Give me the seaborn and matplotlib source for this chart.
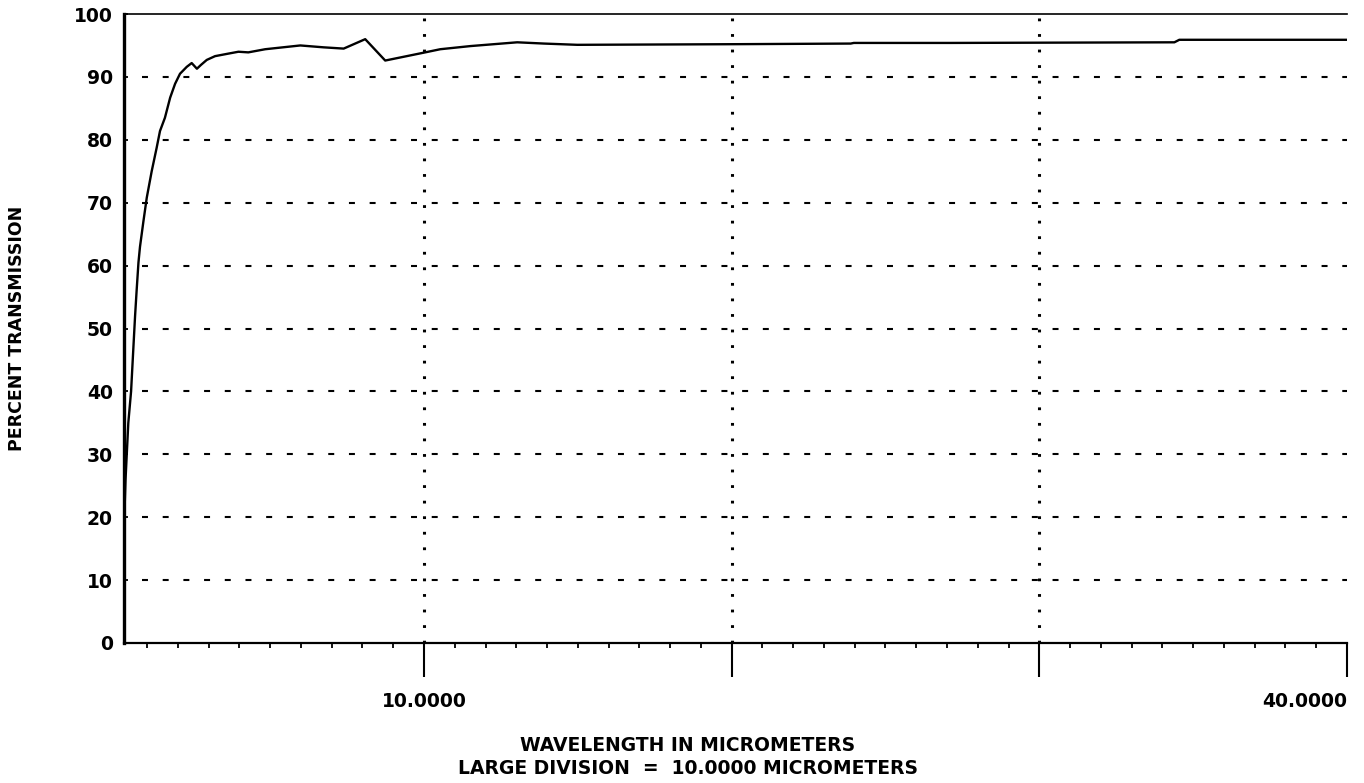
import matplotlib
matplotlib.use("Agg")
import matplotlib.pyplot as plt
from matplotlib.ticker import FixedLocator, MultipleLocator
import seaborn as sns

# values
wavelength = [0.25, 0.27, 0.30, 0.34, 0.39, 0.48, 0.55, 0.61, 0.66, 0.72,
              0.77, 0.88, 0.99, 1.15, 1.31, 1.42, 1.58, 1.75, 1.91, 2.07,
              2.29, 2.45, 2.62, 2.75, 2.94, 3.21, 3.64, 3.97, 4.29, 4.84,
              5.60, 5.98, 6.74, 7.39, 8.09, 8.74, 10.04, 10.53, 11.51, 12.27,
              13.03, 13.90, 14.98, 20.07, 23.87, 23.97, 27.13, 34.39, 34.55, 40.0]
transmission = [27, 21.5, 26, 30, 35, 40, 46.5, 52, 56, 60.5,
                63, 67, 70.8, 75, 78.7, 81.4, 83.5, 86.7, 88.9, 90.5,
                91.6, 92.2, 91.3, 91.9, 92.7, 93.3, 93.7, 94.0, 93.9, 94.4,
                94.8, 95.0, 94.7, 94.5, 96.0, 92.6, 93.9, 94.4, 94.9, 95.2,
                95.5, 95.3, 95.1, 95.2, 95.3, 95.4, 95.4, 95.5, 95.9, 95.9]

major_x = [10, 20, 30, 40]
major_x_labels = ["10.0000", "", "", "40.0000"]
y_ticks = [0, 10, 20, 30, 40, 50, 60, 70, 80, 90, 100]
grid_y = [10, 20, 30, 40, 50, 60, 70, 80, 90]
grid_x = [10, 20, 30]

sns.set_theme(style="white")
plt.rcParams["font.family"] = ["DejaVu Sans"]
plt.rcParams["font.weight"] = "bold"
plt.rcParams["text.color"] = "black"
plt.rcParams["axes.labelcolor"] = "black"
plt.rcParams["xtick.color"] = "black"
plt.rcParams["ytick.color"] = "black"
plt.rcParams["lines.scale_dashes"] = False

fig = plt.figure(figsize=(13.64, 7.83), dpi=100)
ax = fig.add_axes([124 / 1364, 1 - 643 / 783, 1223 / 1364, 629 / 783])

# grid first so the curve sits on top
for yv in grid_y:
    ax.axhline(yv, xmin=0.015, color="black", lw=1.5, linestyle=(0, (4.3, 10.6)), zorder=1)
for xv in grid_x:
    ax.axvline(xv, color="black", lw=2.2, linestyle=(0, (2.0, 9.2)), zorder=1)

sns.lineplot(x=wavelength, y=transmission, color="black", linewidth=1.7, ax=ax, zorder=3)

ax.set_xlim(0.25, 40)
ax.set_ylim(0, 100)

ax.xaxis.set_major_locator(FixedLocator(major_x))
ax.set_xticklabels(major_x_labels, fontsize=13.5, fontweight="bold")
ax.xaxis.set_minor_locator(MultipleLocator(1))
ax.tick_params(axis="x", which="major", direction="out", length=24.5, width=1.5,
               pad=11, color="black", labelcolor="black", bottom=True)
ax.tick_params(axis="x", which="minor", direction="out", length=3.6, width=1.3,
               color="black", bottom=True)
labels = ax.get_xticklabels()
labels[-1].set_horizontalalignment("right")

ax.set_yticks(y_ticks)
ax.set_yticklabels([str(v) for v in y_ticks], fontsize=13.5, fontweight="bold")
ax.tick_params(axis="y", direction="in", length=3, width=1.3, pad=8,
               color="black", labelcolor="black", left=True)

for side, lw in [("left", 2.4), ("bottom", 1.6), ("top", 1.2)]:
    ax.spines[side].set_linewidth(lw)
    ax.spines[side].set_color("black")
ax.spines["right"].set_visible(False)

ax.set_xlabel("WAVELENGTH IN MICROMETERS\nLARGE DIVISION  =  10.0000 MICROMETERS",
              fontsize=13.5, fontweight="bold", linespacing=1.25, color="black")
ax.xaxis.set_label_coords(564 / 1223, -0.148)
ax.set_ylabel("PERCENT TRANSMISSION", fontsize=12.5, fontweight="bold", color="black")
ax.yaxis.set_label_coords(-0.080, 0.5)

plt.savefig("out.png", dpi=100)
plt.close()
